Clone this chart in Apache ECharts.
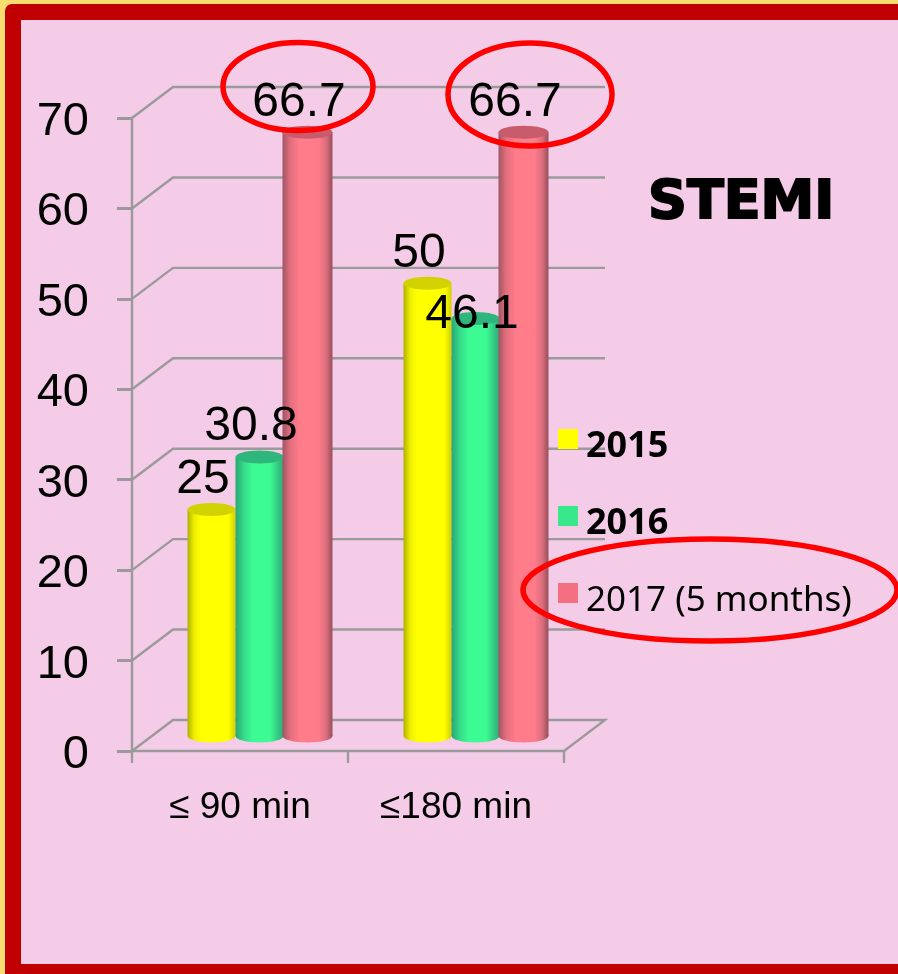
<!DOCTYPE html>
<html>
<head>
<meta charset="utf-8">
<style>html,body{margin:0;padding:0;background:#f5cce8}#c{width:898px;height:974px}</style>
<script src="https://cdn.jsdelivr.net/npm/echarts@6/dist/echarts.min.js"></script>
</head>
<body>
<div id="c"></div>
<script>
const categories = ['\u2264 90 min', '\u2264180 min'];
const yTicks = [0, 10, 20, 30, 40, 50, 60, 70];
const values2015 = [25, 50];
const values2016 = [30.8, 46.1];
const values2017 = [66.7, 66.7];
const seriesNames = ['2015', '2016', '2017 (5 months)'];

const DEPTH_X = 41, DEPTH_Y = 31;
const GRID_COLOR = '#9a9a9a';
const pink = '#f5cce8', red = '#c00000', gold = '#f9dc6e';

function hGrad(stops) {
  return {type: 'linear', x: 0, y: 0, x2: 1, y2: 0,
    colorStops: stops.map(s => ({offset: s[0], color: s[1]}))};
}
const looks = [
  {legend: '#ffff00', top: '#d2d200',
   body: hGrad([[0, '#b0b000'], [0.14, '#eeee00'], [0.28, '#ffff00'], [0.85, '#ffff00'], [1, '#d0d000']])},
  {legend: '#38e88a', top: '#2fb67c',
   body: hGrad([[0, '#2aa673'], [0.18, '#36dc8c'], [0.36, '#3dfb93'], [0.72, '#3dfb93'], [1, '#2ea878']])},
  {legend: '#f47080', top: '#c85c6c',
   body: hGrad([[0, '#a05562'], [0.16, '#e56f7e'], [0.34, '#ff7c8b'], [0.72, '#ff7c8b'], [0.88, '#d96c7a'], [1, '#964f5b']])}
];

function cylinder(seriesIdx) {
  return function (params, api) {
    const cat = api.value(0), val = api.value(1);
    const band = api.size([1, 0])[0];
    const w = band * 0.2222;
    const base = api.coord([cat, 0]);
    const tip = api.coord([cat, val]);
    const cx = base[0] + DEPTH_X / 2 - 1 + (seriesIdx - 1) * w;
    const by = base[1] - DEPTH_Y / 2 + 0.5;
    const ty = tip[1] - DEPTH_Y / 2;
    const rx = (seriesIdx === 2 ? w + 2 : w) / 2;
    const ry = 6.5;
    const look = looks[seriesIdx];
    let lx = cx - 8.5, ly = ty - 30;
    if (seriesIdx === 1 && cat === 1) { lx = cx - 3.5; ly = ty - 4; }
    return {type: 'group', children: [
      {type: 'ellipse', shape: {cx: cx, cy: by, rx: rx, ry: ry}, style: {fill: look.body}},
      {type: 'rect', shape: {x: cx - rx, y: ty, width: rx * 2, height: by - ty}, style: {fill: look.body}},
      {type: 'ellipse', shape: {cx: cx, cy: ty, rx: rx, ry: ry}, style: {fill: look.top}},
      {type: 'text', z2: 100, style: {text: String(val), x: lx, y: ly, align: 'center', verticalAlign: 'middle',
        fill: '#000', font: '48px "Liberation Sans"'}}
    ]};
  };
}

function wallLines(params, api) {
  const v = api.value(0);
  const p = api.coord([0, v]);
  const cs = params.coordSys;
  const x = cs.x, x2 = cs.x + cs.width, y = p[1];
  const pts = [[x, y], [x + DEPTH_X, y - DEPTH_Y], [x2 + DEPTH_X, y - DEPTH_Y]];
  if (v === 0) pts.push([x2, y]);
  return {type: 'polyline', shape: {points: pts},
    style: {fill: 'none', stroke: GRID_COLOR, lineWidth: 2.4}};
}

const chart = echarts.init(document.getElementById('c'), null, {renderer: 'canvas'});
const seriesValues = [values2015, values2016, values2017];
chart.setOption({
  animation: false,
  backgroundColor: gold,
  grid: {left: 132, top: 118, width: 432, height: 633},
  legend: {
    orient: 'vertical', left: 553, top: 424, itemWidth: 20, itemHeight: 20, itemGap: 41,
    icon: 'rect', selectedMode: false,
    data: seriesNames,
    formatter: n => (n === seriesNames[2] ? '{r|' : '{b|') + n + '}',
    textStyle: {rich: {
      b: {fontFamily: '"Noto Sans"', fontSize: 36, fontWeight: 'bold', color: '#000',
        lineHeight: 52, verticalAlign: 'bottom', padding: [0, 0, 0, 3]},
      r: {fontFamily: '"Noto Sans"', fontSize: 35, color: '#000',
        lineHeight: 52, verticalAlign: 'bottom', padding: [0, 0, 0, 3]}
    }}
  },
  title: {
    text: 'STEMI', left: 643, top: 172,
    textStyle: {fontFamily: '"DejaVu Sans"', fontWeight: 'bold', fontSize: 54, color: '#000',
      textBorderColor: '#000', textBorderWidth: 2}
  },
  xAxis: {
    type: 'category', data: categories,
    axisLine: {lineStyle: {color: GRID_COLOR, width: 2.4}},
    axisTick: {show: true, length: 12, alignWithLabel: false, lineStyle: {color: GRID_COLOR, width: 2.4}},
    axisLabel: {fontFamily: '"Liberation Sans"', fontSize: 37, color: '#000', margin: 38},
    splitLine: {show: false}
  },
  yAxis: {
    type: 'value', min: 0, max: 70, interval: 10,
    axisLine: {show: true, lineStyle: {color: GRID_COLOR, width: 2.4}},
    axisTick: {show: true, length: 15, lineStyle: {color: GRID_COLOR, width: 3}},
    axisLabel: {margin: 43, formatter: '{n|{value}}',
      rich: {n: {fontFamily: '"Liberation Sans"', fontSize: 47, color: '#000', lineHeight: 55, verticalAlign: 'bottom'}}},
    splitLine: {show: false}
  },
  graphic: {elements: [
    {type: 'rect', z: -30, shape: {x: 5, y: 4, width: 893, height: 970, r: [7, 0, 0, 0]}, style: {fill: red}},
    {type: 'rect', z: -20, shape: {x: 21, y: 20, width: 877, height: 944}, style: {fill: pink}},
    {type: 'ellipse', z: 50, shape: {cx: 298, cy: 86.5, rx: 75, ry: 44}, style: {fill: 'none', stroke: '#ff0000', lineWidth: 5.5}},
    {type: 'ellipse', z: 50, shape: {cx: 530, cy: 94.5, rx: 82, ry: 51.5}, style: {fill: 'none', stroke: '#ff0000', lineWidth: 5.5}},
    {type: 'ellipse', z: 50, shape: {cx: 710, cy: 590, rx: 187, ry: 51}, style: {fill: 'none', stroke: '#ff0000', lineWidth: 5.5}}
  ]},
  series: [
    {type: 'custom', name: 'walls', z: 1, silent: true, renderItem: wallLines,
     encode: {y: 0}, data: yTicks.map(v => [v])}
  ].concat(seriesNames.map((n, i) => ({
    type: 'custom', name: n, z: 3, itemStyle: {color: looks[i].legend},
    renderItem: cylinder(i), encode: {x: 0, y: 1},
    data: seriesValues[i].map((v, k) => [k, v])
  })))
});
</script>
</body>
</html>
